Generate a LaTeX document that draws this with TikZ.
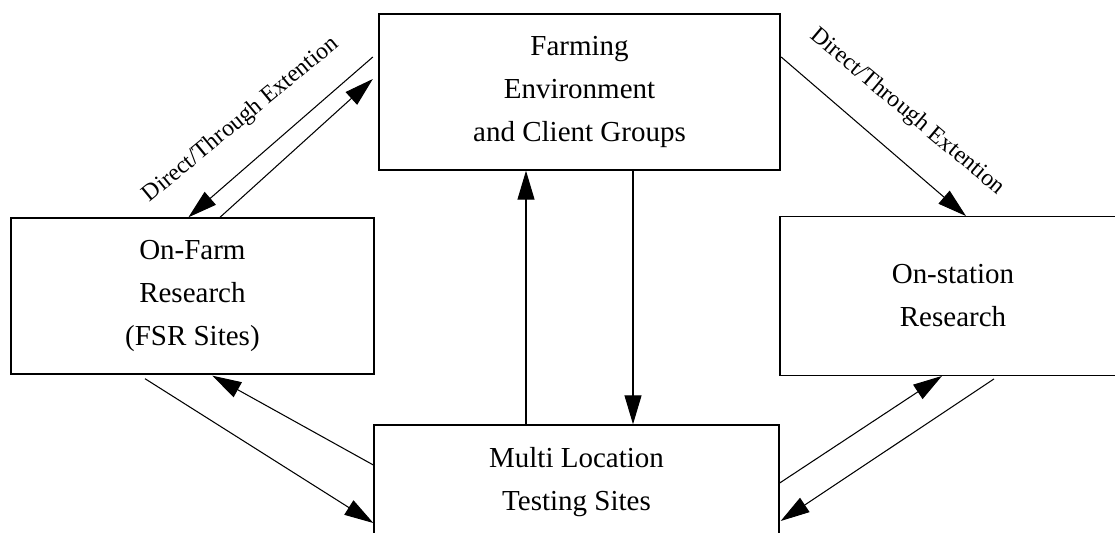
\documentclass[tikz,border=0pt]{standalone}
\usepackage{fontspec}
\setmainfont{Liberation Serif}
\usetikzlibrary{arrows.meta}

\begin{document}
\begin{tikzpicture}[x=0.02cm,y=-0.02cm,
	box/.style={draw,line width=0.8pt,align=center,font=\fontsize{16.5}{24.5}\selectfont},
	link/.style={line width=0.6pt,-{Triangle[length=5.8mm,width=3.4mm]}},
	lbl/.style={font=\fontsize{13.5}{16}\selectfont,inner sep=0pt}]
	\clip (0,0) rectangle (1115,533);
	\node[box,minimum width=8.02cm,minimum height=3.12cm] (env) at (579.5,92) {Farming\\Environment\\and Client Groups};
	\node[box,minimum width=7.26cm,minimum height=3.12cm] (farm) at (192.4,296) {On-Farm\\Research\\(FSR Sites)};
	\node[box,minimum width=6.92cm,minimum height=3.17cm] (station) at (953,296) {On-station\\Research};
	\node[box,minimum width=8.1cm,minimum height=2.28cm] (multi) at (576.5,482) {Multi Location\\Testing Sites};
	\draw[link] ([shift={(-5.5,-35)}]env.west) -- ([shift={(-4,0)}]farm.north);
	\draw[link] ([shift={(27.6,0)}]farm.north) -- ([shift={(-5.5,-13)}]env.west);
	\draw[link] ([shift={(0.5,-35)}]env.east) -- ([shift={(13,0)}]station.north);
	\draw[link] ([shift={(-50.5,0)}]multi.north) -- ([shift={(-53.5,0)}]env.south);
	\draw[link] ([shift={(53.5,0)}]env.south) -- ([shift={(56.5,0)}]multi.north);
	\draw[link] ([shift={(-47.4,4)}]farm.south) -- ([shift={(0,41)}]multi.west);
	\draw[link] ([shift={(0,-17)}]multi.west) -- ([shift={(20,1)}]farm.south);
	\draw[link] ([shift={(0,1)}]multi.east) -- ([shift={(-11,0)}]station.south);
	\draw[link] ([shift={(41,3)}]station.south) -- ([shift={(1,39)}]multi.east);
	\node[lbl,rotate=39.5] (extleft) at (241,120) {Direct/Through Extention};
	\node[lbl,rotate=-40] (extright) at (907,112) {Direct/Through Extention};
\end{tikzpicture}
\end{document}
